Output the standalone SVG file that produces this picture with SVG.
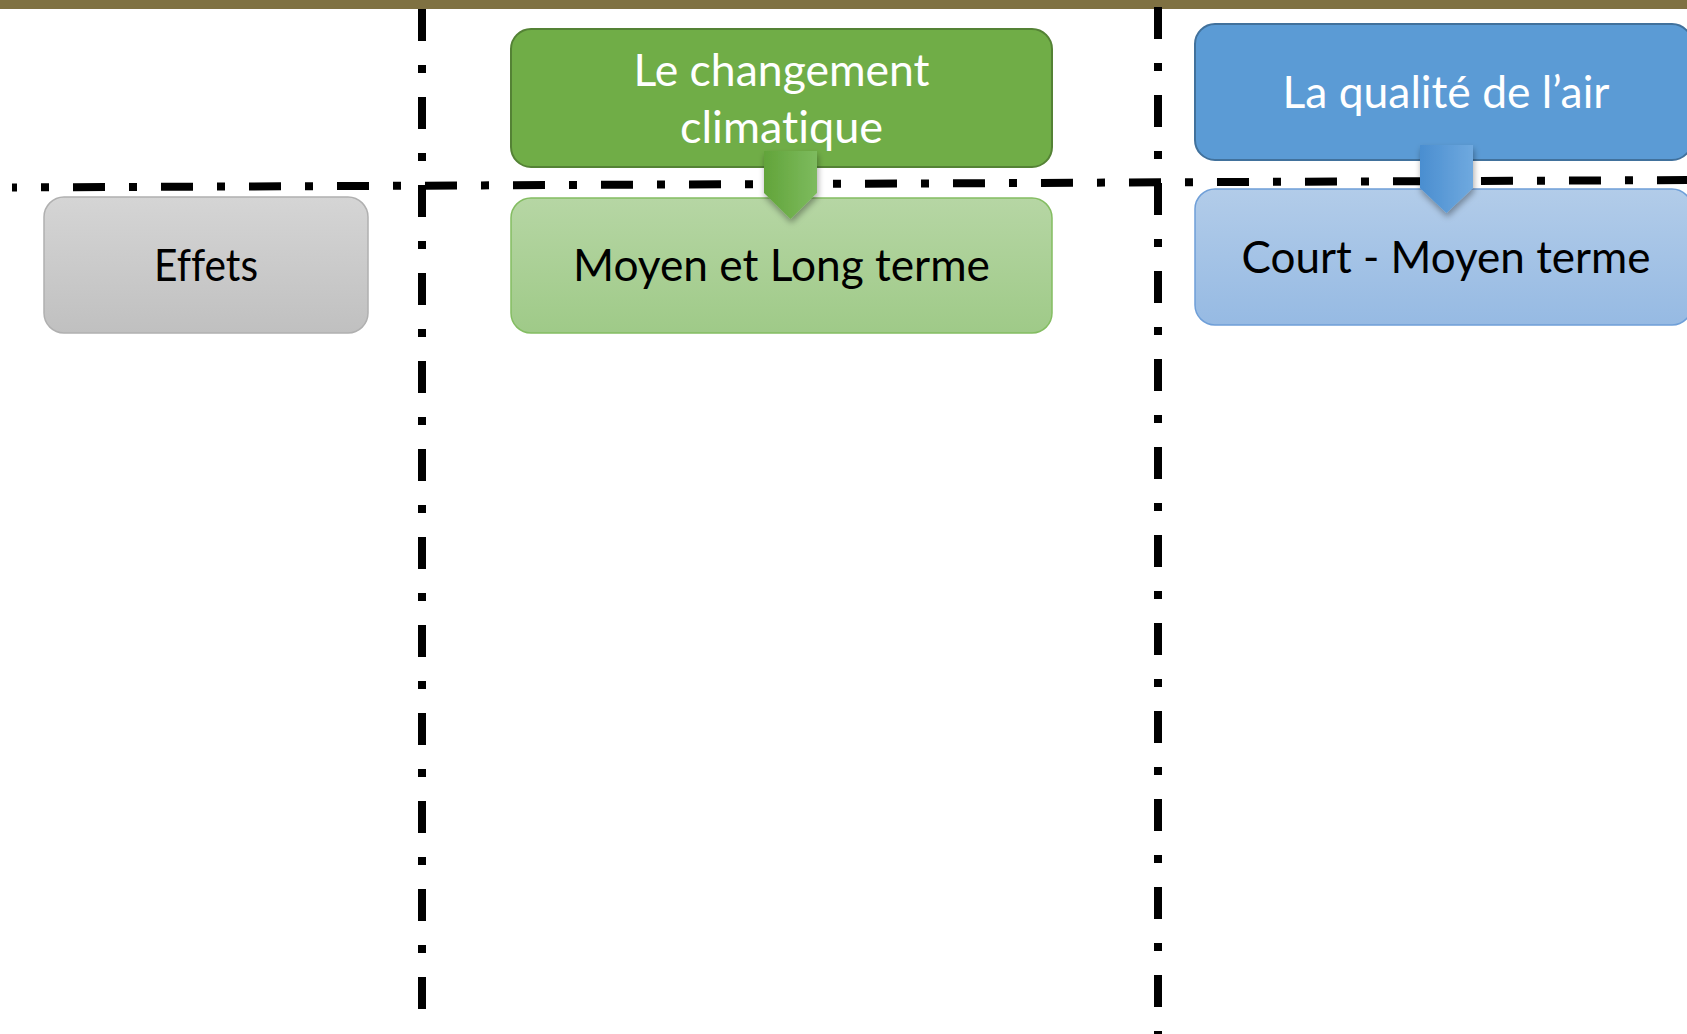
<svg xmlns="http://www.w3.org/2000/svg" width="1687" height="1034" viewBox="0 0 1687 1034">
  <defs>
    <linearGradient id="gGray" x1="0" y1="0" x2="0" y2="1">
      <stop offset="0" stop-color="#d5d5d5"/>
      <stop offset="1" stop-color="#c0c0c0"/>
    </linearGradient>
    <linearGradient id="gGreenLight" x1="0" y1="0" x2="0" y2="1">
      <stop offset="0" stop-color="#b6d6a4"/>
      <stop offset="1" stop-color="#9fca88"/>
    </linearGradient>
    <linearGradient id="gBlueLight" x1="0" y1="0" x2="0" y2="1">
      <stop offset="0" stop-color="#b2cce9"/>
      <stop offset="1" stop-color="#96bae3"/>
    </linearGradient>
    <linearGradient id="gArrowGreen" x1="0" y1="0" x2="1" y2="0">
      <stop offset="0" stop-color="#62a43a"/>
      <stop offset="1" stop-color="#7dbb5e"/>
    </linearGradient>
    <linearGradient id="gArrowBlue" x1="0" y1="0" x2="1" y2="0">
      <stop offset="0" stop-color="#4a8ed0"/>
      <stop offset="1" stop-color="#6fa9df"/>
    </linearGradient>
    <filter id="shadow" x="-30%" y="-30%" width="160%" height="160%">
      <feDropShadow dx="1" dy="4" stdDeviation="3" flood-color="#000" flood-opacity="0.35"/>
    </filter>
  </defs>
  <style>
    .sep { stroke: #000; stroke-width: 8; fill: none; stroke-dasharray: 32 24 8 24; }
    .lbl { font-family: Lato, "Open Sans", "Liberation Sans", sans-serif; font-size: 45px; text-anchor: middle; font-variant-ligatures: none; font-feature-settings: "liga" 0, "clig" 0; }
    .white { fill: #ffffff; }
    .black { fill: #000000; }
  </style>

  <rect x="0" y="0" width="1687" height="9" fill="#7f7142"/>

  <g id="connectors">
    <line class="sep" x1="12" y1="187.5" x2="1687" y2="180" stroke-dashoffset="27"/>
    <line class="sep" x1="422" y1="9" x2="422" y2="1009"/>
    <line class="sep" x1="1158" y1="7" x2="1158" y2="1034"/>
  </g>

  <g id="effets">
    <rect x="44" y="197" width="324" height="136" rx="20" fill="url(#gGray)" stroke="#b0b0b0" stroke-width="1.5"/>
    <text class="lbl black" x="206" y="281" textLength="104" lengthAdjust="spacingAndGlyphs">Effets</text>
  </g>

  <g id="changement-climatique">
    <rect x="511" y="29" width="541" height="138" rx="20" fill="#70ad47" stroke="#548235" stroke-width="2"/>
    <text class="lbl white" x="781.5" y="86" textLength="296" lengthAdjust="spacingAndGlyphs">Le changement</text>
    <text class="lbl white" x="781.5" y="143" textLength="203" lengthAdjust="spacingAndGlyphs">climatique</text>
  </g>

  <g id="moyen-long-terme">
    <rect x="511" y="198" width="541" height="135" rx="20" fill="url(#gGreenLight)" stroke="#84bd62" stroke-width="1.5"/>
    <text class="lbl black" x="781.5" y="281" textLength="417" lengthAdjust="spacingAndGlyphs">Moyen et Long terme</text>
  </g>

  <g id="qualite-air">
    <rect x="1195" y="24" width="497" height="136" rx="20" fill="#5b9bd5" stroke="#41719c" stroke-width="2"/>
    <text class="lbl white" x="1446" y="108" textLength="327" lengthAdjust="spacingAndGlyphs">La qualité de l’air</text>
  </g>

  <g id="court-moyen-terme">
    <rect x="1195" y="189" width="497" height="136" rx="20" fill="url(#gBlueLight)" stroke="#6f9fd8" stroke-width="1.5"/>
    <text class="lbl black" x="1446" y="273" textLength="409" lengthAdjust="spacingAndGlyphs">Court - Moyen terme</text>
  </g>

  <g id="arrow-green">
    <polygon points="764,151 817,151 817,193 790.5,219 764,193" fill="url(#gArrowGreen)" filter="url(#shadow)"/>
  </g>

  <g id="arrow-blue">
    <polygon points="1420,145 1473,145 1473,188 1446.5,213 1420,188" fill="url(#gArrowBlue)" filter="url(#shadow)"/>
  </g>
</svg>
